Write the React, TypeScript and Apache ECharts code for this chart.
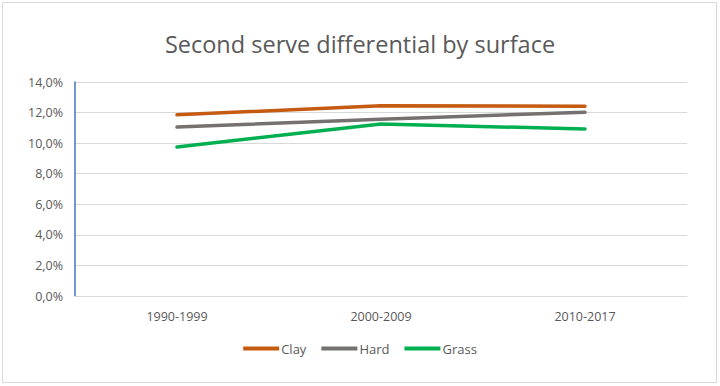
import React, { useEffect, useRef } from "react";
import * as echarts from "echarts";

const categories = ["1990-1999", "2000-2009", "2010-2017"];
const clay = [11.85, 12.45, 12.42];
const hard = [11.05, 11.57, 12.02];
const grass = [9.75, 11.25, 10.93];
const yTicks = [0, 2, 4, 6, 8, 10, 12, 14];

export default function App() {
  const ref = useRef<HTMLDivElement>(null);
  useEffect(() => {
    const chart = echarts.init(ref.current!, null, { renderer: "svg" });
    const font = "Open Sans, Liberation Sans, sans-serif";
    const mk = (name: string, data: number[], color: string) => ({
      name,
      type: "line",
      data,
      symbol: "none",
      lineStyle: { color, width: 3.5, cap: "round" },
      itemStyle: { color },
    });
    chart.setOption({
      animation: false,
      backgroundColor: "#fff",
      textStyle: { fontFamily: font },
      title: {
        text: "Second serve differential by surface",
        left: "center",
        top: 27,
        textStyle: { fontFamily: font, fontSize: 23.5, fontWeight: "normal", color: "#595959" },
      },
      graphic: [
        {
          type: "rect",
          shape: { x: 2.5, y: 2.5, width: 714, height: 380 },
          style: { fill: "none", stroke: "#d9d9d9", lineWidth: 1 },
          silent: true,
        },
      ],
      legend: {
        bottom: 26,
        left: "center",
        itemWidth: 36,
        itemHeight: 4,
        itemGap: 15,
        icon: "rect",
        textStyle: { fontFamily: font, fontSize: 13, color: "#595959", padding: [0, 0, 0, -3] },
        data: ["Clay", "Hard", "Grass"],
      },
      grid: { left: 75, right: 33, top: 82, bottom: 90 },
      xAxis: {
        type: "category",
        data: categories,
        boundaryGap: true,
        axisLine: { lineStyle: { color: "#d9d9d9" } },
        axisTick: { show: false },
        axisLabel: { color: "#595959", fontSize: 12.5, margin: 14 },
      },
      yAxis: {
        type: "value",
        min: yTicks[0],
        max: yTicks[yTicks.length - 1],
        interval: 2,
        axisLine: { show: true, lineStyle: { color: "#4472C4", width: 1.5 } },
        axisTick: { show: false },
        splitLine: { lineStyle: { color: "#d9d9d9" } },
        axisLabel: {
          color: "#595959",
          fontSize: 12.5,
          margin: 12,
          formatter: (v: number) => v.toFixed(1).replace(".", ",") + "%",
        },
      },
      series: [
        mk("Clay", clay, "#C55A11"),
        mk("Hard", hard, "#767171"),
        mk("Grass", grass, "#00B050"),
      ],
    });
    return () => chart.dispose();
  }, []);
  return (
    <div
      ref={ref}
      style={{ position: "absolute", left: 0, top: 0, width: 720, height: 386 }}
    />
  );
}
